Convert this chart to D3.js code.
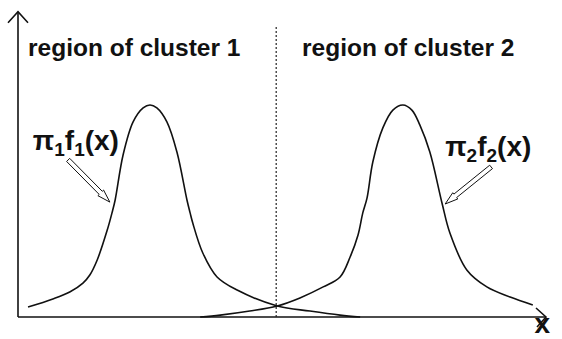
<!DOCTYPE html>
<html>
<head>
<meta charset="utf-8">
<style>
  body { margin: 0; background: #fff; }
  svg { display: block; font-family: "Liberation Sans", Arial, sans-serif; }
  .curve { fill: none; stroke: #111; stroke-width: 1.6; }
  .axis-line { fill: none; stroke: #111; stroke-width: 1.6; }
  .boundary { stroke: #222; stroke-width: 1.2; stroke-dasharray: 2, 2; }
  .region { font-size: 24.5px; font-weight: bold; fill: #111; }
  .lbl { font-size: 28px; font-weight: bold; fill: #111; }
  .pointer { fill: #fff; stroke: #111; stroke-width: 1; }
</style>
</head>
<body>
<div id="chart"></div>
<script src="https://cdn.jsdelivr.net/npm/d3@7"></script>
<script>
// curve 1: pi1 f1(x)
var curve1X = [0.19, 0.66, 0.98, 1.23, 1.36, 1.50, 1.69, 1.78, 1.84, 1.99, 2.18, 2.37, 2.50,
               2.63, 2.82, 3.01, 3.20, 3.26, 3.31, 3.50, 3.77, 4.15, 4.91, 5.53, 6.10, 6.48];
var curve1Y = [0.047, 0.085, 0.118, 0.160, 0.198, 0.269, 0.410, 0.491, 0.552, 0.764, 0.920, 0.986, 1.0,
               0.986, 0.920, 0.778, 0.552, 0.491, 0.443, 0.302, 0.189, 0.127, 0.052, 0.028, 0.009, 0.0];

// curve 2: pi2 f2(x)
var curve2X = [3.45, 3.83, 4.39, 4.91, 5.34, 5.78, 6.10, 6.29, 6.44, 6.53, 6.61, 6.72, 6.91,
               7.10, 7.29, 7.46, 7.61, 7.80, 8.03, 8.18, 8.50, 8.88, 9.32, 9.75];
var curve2Y = [0.0, 0.009, 0.028, 0.052, 0.090, 0.142, 0.189, 0.283, 0.387, 0.491, 0.561, 0.731, 0.892,
               0.976, 1.0, 0.976, 0.906, 0.778, 0.538, 0.396, 0.222, 0.142, 0.094, 0.057];

var boundaryX = 4.89;
var regionLabels = ["region of cluster 1", "region of cluster 2"];
var regionLabelX = [0.19, 5.38];
var densityLabels = [["\u03c0", "1", "f", "1", "(x)"], ["\u03c0", "2", "f", "2", "(x)"]];
var densityLabelX = [0.28, 8.09];
var densityLabelY = [0.788, 0.760];
// pointer arrows: tail -> tip
var pointerFrom = [[0.95, 0.741], [8.96, 0.708]];
var pointerTo = [[1.74, 0.542], [8.09, 0.533]];

var width = 562, height = 339;

var svg = d3.select("#chart").append("svg")
  .attr("width", width)
  .attr("height", height);

var x = d3.scaleLinear().domain([0, 10]).range([18, 546]);
var y = d3.scaleLinear().domain([0, 1]).range([317, 105]);

var line = d3.line()
  .x(function(d) { return x(d[0]); })
  .y(function(d) { return y(d[1]); })
  .curve(d3.curveCatmullRom.alpha(0.5));

// axes with open arrow heads
var yTop = 1.44;
svg.append("path").attr("class", "axis-line")
  .attr("d", "M" + x(0) + "," + y(0) + "V" + y(yTop));
svg.append("path").attr("class", "axis-line")
  .attr("d", "M" + (x(0) - 10) + "," + (y(yTop) + 11) + "L" + x(0) + "," + y(yTop) + "L" + (x(0) + 10) + "," + (y(yTop) + 11));
svg.append("path").attr("class", "axis-line")
  .attr("d", "M" + x(0) + "," + y(0) + "H" + x(10));
svg.append("path").attr("class", "axis-line")
  .attr("d", "M" + (x(10) - 10) + "," + (y(0) - 9) + "L" + x(10) + "," + y(0) + "L" + (x(10) - 9) + "," + (y(0) + 10));

// decision boundary
svg.append("line").attr("class", "boundary")
  .attr("x1", x(boundaryX)).attr("x2", x(boundaryX))
  .attr("y1", y(0)).attr("y2", y(1.377));

// curves
[[curve1X, curve1Y], [curve2X, curve2Y]].forEach(function(c) {
  svg.append("path").attr("class", "curve")
    .datum(d3.zip(c[0], c[1]))
    .attr("d", line);
});

// region labels
svg.selectAll(".region").data(regionLabels).enter().append("text")
  .attr("class", "region")
  .attr("x", function(d, i) { return x(regionLabelX[i]); })
  .attr("y", y(1.231))
  .text(function(d) { return d; });

// density labels with subscripts
densityLabels.forEach(function(parts, i) {
  var t = svg.append("text").attr("class", "lbl")
    .attr("x", x(densityLabelX[i]))
    .attr("y", y(densityLabelY[i]));
  parts.forEach(function(p, k) {
    var sub = (k === 1 || k === 3);
    t.append("tspan")
      .attr("dy", sub ? 6 : (k > 0 ? -6 : 0))
      .style("font-size", sub ? "19px" : null)
      .text(p);
  });
});

// hollow pointer arrows
pointerFrom.forEach(function(f, i) {
  var x0 = x(f[0]), y0 = y(f[1]), x1 = x(pointerTo[i][0]), y1 = y(pointerTo[i][1]);
  var dx = x1 - x0, dy = y1 - y0, len = Math.sqrt(dx * dx + dy * dy);
  var ux = dx / len, uy = dy / len, nx = -uy, ny = ux;
  var hw = 2.2, hh = 4, hl = 13;
  var bx = x1 - ux * hl, by = y1 - uy * hl;
  var pts = [
    [x0 + nx * hw, y0 + ny * hw], [bx + nx * hw, by + ny * hw], [bx + nx * hh, by + ny * hh],
    [x1, y1],
    [bx - nx * hh, by - ny * hh], [bx - nx * hw, by - ny * hw], [x0 - nx * hw, y0 - ny * hw]
  ];
  svg.append("path").attr("class", "pointer")
    .attr("d", "M" + pts.map(function(p) { return p.join(","); }).join("L") + "Z");
});

// x label
svg.append("text").attr("class", "lbl")
  .attr("x", x(9.78)).attr("y", 333)
  .text("x");
</script>
</body>
</html>
